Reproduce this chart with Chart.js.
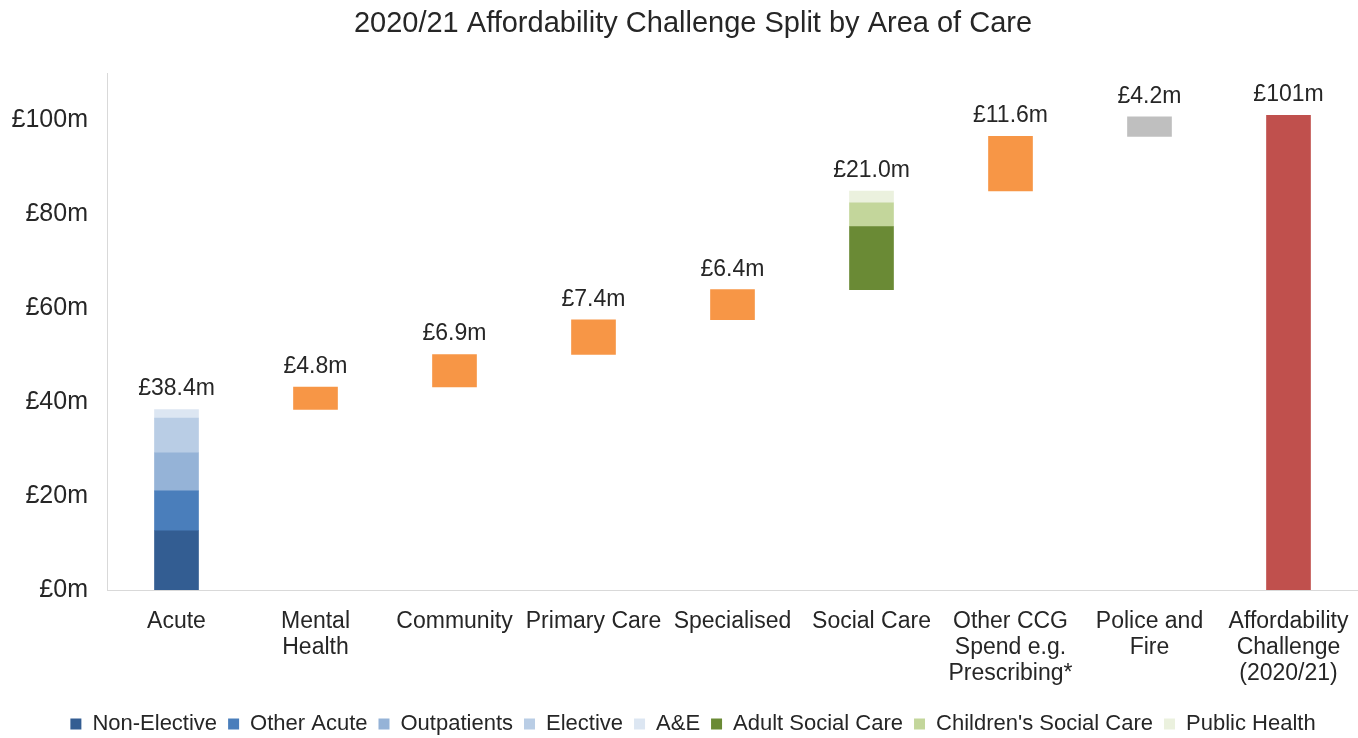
<!DOCTYPE html>
<html>
<head>
<meta charset="utf-8">
<script src="https://cdn.jsdelivr.net/npm/chart.js@4"></script>
<style>
  body { margin: 0; background: #fff; }
  #wrap { width: 1358px; height: 738px; }
</style>
</head>
<body>
<div id="wrap"><canvas id="chart" width="1358" height="738"></canvas></div>
<script>
// categories along the x axis
const categories = [
  'Acute', ['Mental', 'Health'], 'Community', 'Primary Care', 'Specialised', 'Social Care',
  ['Other CCG', 'Spend e.g.', 'Prescribing*'], ['Police and', 'Fire'], ['Affordability', 'Challenge', '(2020/21)']
];

// Acute split (£m)
const acuteNames = ['Non-Elective', 'Other Acute', 'Outpatients', 'Elective', 'A&E'];
const acuteValues = [12.6, 8.5, 8.1, 7.4, 1.8];
const acuteColors = ['#335D92', '#4A7EBB', '#95B3D7', '#B9CDE5', '#DCE6F2'];

// Social care split (£m)
const socialNames = ["Adult Social Care", "Children's Social Care", 'Public Health'];
const socialValues = [13.4, 5.1, 2.5];
const socialColors = ['#6A8A35', '#C3D69B', '#EBF1DE'];

// single-colour steps (£m), null where the category is drawn by another series
const otherSteps = [null, 4.8, 6.9, 7.4, 6.4, null, 11.6, null, null];
const policeSteps = [null, null, null, null, null, null, null, 4.2, null];
const totalValue = 101;

const yTicks = [0, 20, 40, 60, 80, 100];

// step size per category, then the running base for the waterfall
const sum = a => a.reduce((s, v) => s + v, 0);
const steps = categories.map((c, i) => {
  if (i === 0) return sum(acuteValues);
  if (i === 5) return sum(socialValues);
  if (i === categories.length - 1) return totalValue;
  return otherSteps[i] != null ? otherSteps[i] : policeSteps[i];
});
const bases = [];
let run = 0;
steps.forEach((s, i) => {
  if (i === categories.length - 1) { bases.push(0); return; }
  bases.push(Math.round(run * 10) / 10);
  run += s;
});
const stepLabels = steps.map((s, i) => '£' + (i === steps.length - 1 ? s.toFixed(0) : s.toFixed(1)) + 'm');

const only = (idx, v) => categories.map((c, i) => (i === idx ? v : null));

const datasets = [
  { label: 'base', data: bases, backgroundColor: 'rgba(0,0,0,0)', legend: false }
];
acuteNames.forEach((n, k) => datasets.push({ label: n, data: only(0, acuteValues[k]), backgroundColor: acuteColors[k] }));
socialNames.forEach((n, k) => datasets.push({ label: n, data: only(5, socialValues[k]), backgroundColor: socialColors[k] }));
datasets.push({ label: 'Area', data: otherSteps, backgroundColor: '#F79646', legend: false });
datasets.push({ label: 'Police', data: policeSteps, backgroundColor: '#BFBFBF', legend: false });
datasets.push({ label: 'Total', data: only(8, totalValue), backgroundColor: '#C0504D', legend: false });
datasets.forEach(d => { d.barThickness = 44; d.stack = 'w'; d.borderWidth = 0; });

const family = '"Liberation Sans", Arial, sans-serif';

const stepLabelPlugin = {
  id: 'stepLabels',
  // y labels reach into the left padding, so widen the label clip box
  afterLayout(chart) { chart.scales.y.left = 0; },
  afterDatasetsDraw(chart) {
    const { ctx, scales } = chart;
    ctx.save();
    ctx.font = '23px ' + family;
    ctx.fillStyle = '#262626';
    ctx.textAlign = 'center';
    ctx.textBaseline = 'bottom';
    steps.forEach((s, i) => {
      const x = scales.x.getPixelForValue(i);
      const y = scales.y.getPixelForValue(bases[i] + s);
      ctx.fillText(stepLabels[i], x, y - 9);
    });
    ctx.restore();
  }
};

new Chart(document.getElementById('chart'), {
  type: 'bar',
  data: { labels: categories, datasets },
  options: {
    responsive: false,
    animation: false,
    devicePixelRatio: 1,
    layout: { padding: { left: 28, right: 0, top: 0, bottom: -7 } },
    plugins: {
      title: {
        display: true,
        text: '2020/21 Affordability Challenge Split by Area of Care',
        color: '#262626',
        font: { family, size: 29, weight: 'normal' },
        padding: { top: 7, bottom: 31.2 }
      },
      legend: {
        position: 'bottom',
        labels: {
          color: '#262626',
          font: { family, size: 22 },
          boxWidth: 11,
          boxHeight: 11,
          padding: 11,
          filter: (item, data) => data.datasets[item.datasetIndex].legend !== false
        }
      },
      tooltip: { enabled: false }
    },
    scales: {
      x: {
        stacked: true,
        grid: { display: false, drawTicks: false },
        border: { display: true, color: '#D9D9D9' },
        afterFit: s => { s.height = 112; s.paddingRight = 0; s.paddingLeft = 0; },
        ticks: { color: '#262626', font: { family, size: 23, lineHeight: 1.13 }, padding: 19, maxRotation: 0, autoSkip: false }
      },
      y: {
        stacked: true,
        min: 0,
        max: 110,
        grid: { display: false, drawTicks: false },
        border: { display: true, color: '#D9D9D9' },
        afterBuildTicks: s => { s.ticks = yTicks.map(v => ({ value: v })); },
        afterFit: s => { s.width = 79; },
        ticks: { color: '#262626', font: { family, size: 25 }, padding: 19, callback: v => '£' + v + 'm' }
      }
    }
  },
  plugins: [stepLabelPlugin]
});
</script>
</body>
</html>
